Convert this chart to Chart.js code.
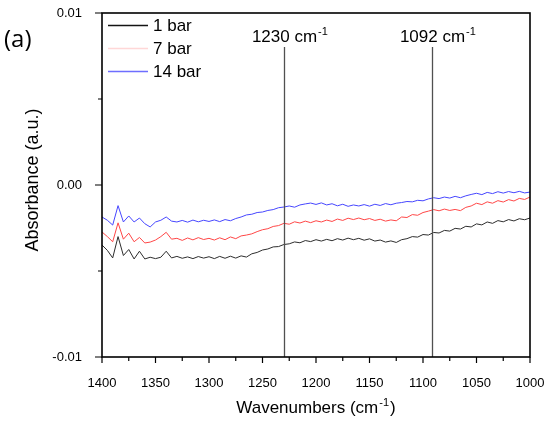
<!DOCTYPE html>
<html>
<head>
<meta charset="utf-8">
<script src="https://cdn.jsdelivr.net/npm/chart.js@4"></script>
<style>
  body { margin: 0; background: #fff; }
  canvas { display: block; }
</style>
</head>
<body>
<canvas id="ftir" width="549" height="423"></canvas>
<script>
var wavenumbers = [
  1400, 1395, 1390, 1385, 1380, 1375, 1370, 1365, 1360, 1355,
  1350, 1345, 1340, 1335, 1330, 1325, 1320, 1315, 1310, 1305,
  1300, 1295, 1290, 1285, 1280, 1275, 1270, 1265, 1260, 1255,
  1250, 1245, 1240, 1235, 1230, 1225, 1220, 1215, 1210, 1205,
  1200, 1195, 1190, 1185, 1180, 1175, 1170, 1165, 1160, 1155,
  1150, 1145, 1140, 1135, 1130, 1125, 1120, 1115, 1110, 1105,
  1100, 1095, 1090, 1085, 1080, 1075, 1070, 1065, 1060, 1055,
  1050, 1045, 1040, 1035, 1030, 1025, 1020, 1015, 1010, 1005,
  1000
];

var bar1 = [
  -0.00349, -0.00380, -0.00424, -0.00300, -0.00410, -0.00375, -0.00430, -0.00385, -0.00430, -0.00420,
  -0.00428, -0.00420, -0.00385, -0.00424, -0.00415, -0.00426, -0.00418, -0.00428, -0.00416, -0.00425,
  -0.00417, -0.00428, -0.00415, -0.00426, -0.00414, -0.00425, -0.00412, -0.00419, -0.00400, -0.00392,
  -0.00378, -0.00372, -0.00360, -0.00358, -0.00346, -0.00342, -0.00331, -0.00336, -0.00323, -0.00329,
  -0.00318, -0.00326, -0.00316, -0.00324, -0.00312, -0.00320, -0.00309, -0.00318, -0.00310, -0.00321,
  -0.00313, -0.00326, -0.00320, -0.00332, -0.00325, -0.00334, -0.00318, -0.00312, -0.00300, -0.00303,
  -0.00288, -0.00291, -0.00276, -0.00279, -0.00264, -0.00268, -0.00252, -0.00256, -0.00240, -0.00244,
  -0.00226, -0.00232, -0.00215, -0.00223, -0.00207, -0.00214, -0.00201, -0.00209, -0.00196, -0.00202,
  -0.00192
];

var bar7 = [
  -0.00273, -0.00300, -0.00330, -0.00220, -0.00315, -0.00280, -0.00330, -0.00305, -0.00337, -0.00332,
  -0.00320, -0.00300, -0.00275, -0.00315, -0.00310, -0.00322, -0.00308, -0.00319, -0.00306, -0.00317,
  -0.00310, -0.00320, -0.00307, -0.00318, -0.00302, -0.00312, -0.00296, -0.00291, -0.00284, -0.00271,
  -0.00260, -0.00254, -0.00241, -0.00236, -0.00223, -0.00228, -0.00214, -0.00221, -0.00210, -0.00219,
  -0.00208, -0.00215, -0.00204, -0.00212, -0.00198, -0.00206, -0.00193, -0.00201, -0.00192, -0.00202,
  -0.00195, -0.00206, -0.00199, -0.00210, -0.00203, -0.00208, -0.00186, -0.00189, -0.00172, -0.00176,
  -0.00160, -0.00152, -0.00143, -0.00150, -0.00140, -0.00148, -0.00142, -0.00149, -0.00130, -0.00122,
  -0.00106, -0.00114, -0.00098, -0.00106, -0.00091, -0.00099, -0.00085, -0.00093, -0.00078, -0.00084,
  -0.00070
];

var bar14 = [
  -0.00186, -0.00205, -0.00233, -0.00120, -0.00215, -0.00180, -0.00215, -0.00192, -0.00225, -0.00244,
  -0.00215, -0.00205, -0.00186, -0.00210, -0.00215, -0.00206, -0.00216, -0.00204, -0.00214, -0.00205,
  -0.00212, -0.00203, -0.00213, -0.00201, -0.00208, -0.00195, -0.00186, -0.00174, -0.00170, -0.00160,
  -0.00157, -0.00148, -0.00143, -0.00132, -0.00128, -0.00122, -0.00129, -0.00116, -0.00110, -0.00105,
  -0.00113, -0.00104, -0.00116, -0.00109, -0.00121, -0.00112, -0.00124, -0.00116, -0.00122, -0.00114,
  -0.00123, -0.00112, -0.00119, -0.00108, -0.00115, -0.00106, -0.00102, -0.00096, -0.00098, -0.00089,
  -0.00092, -0.00081, -0.00074, -0.00079, -0.00070, -0.00076, -0.00066, -0.00074, -0.00063, -0.00055,
  -0.00048, -0.00056, -0.00043, -0.00050, -0.00039, -0.00047, -0.00038, -0.00045, -0.00037, -0.00046,
  -0.00041
];

var seriesNames = ["1 bar", "7 bar", "14 bar"];
var markers = [1230, 1092];
var xMajor = [1400, 1350, 1300, 1250, 1200, 1150, 1100, 1050, 1000];
var xMinor = [1375, 1325, 1275, 1225, 1175, 1125, 1075, 1025];
var yMajor = [-0.01, 0, 0.01];
var yMinor = [-0.005, 0.005];

var color = {
    black: "rgb(45,45,45)"
  , red: "rgb(255,70,70)"
  , blue: "rgb(70,70,255)"
};
var legendColor = ["rgb(20,20,20)", "rgb(255,215,215)", "rgb(110,110,255)"];
var font = "'Liberation Sans', Arial, sans-serif";

function points(values) {
	return wavenumbers.map(function (w, i) { return { x: w, y: values[i] }; });
}

// base text followed by a small raised part
function supText(ctx, base, sup, x, y, size, supSize, align) {
	ctx.font = size + "px " + font;
	var wb = ctx.measureText(base).width;
	var x0 = align === "center" ? x - wb / 2 : x;
	ctx.textAlign = "left";
	ctx.textBaseline = "alphabetic";
	ctx.fillText(base, x0, y);
	ctx.font = supSize + "px " + font;
	ctx.fillText(sup, x0 + wb + 1, y - size * 0.42);
}

var decor = {
	id: "decor",
	afterDraw: function (chart) {
		var ctx = chart.ctx, a = chart.chartArea;
		var xs = chart.scales.x, ys = chart.scales.y;
		ctx.save();

		// marker lines at the two bands
		ctx.strokeStyle = "rgb(80,80,80)";
		ctx.lineWidth = 1.3;
		ctx.fillStyle = "#000";
		markers.forEach(function (m) {
			var px = Math.round(xs.getPixelForValue(m)) + 0.5;
			ctx.beginPath();
			ctx.moveTo(px, 47);
			ctx.lineTo(px, a.bottom);
			ctx.stroke();
			supText(ctx, m + " cm", "-1", px, 42, 17, 11, "center");
		});

		// frame
		ctx.strokeStyle = "#000";
		ctx.lineWidth = 1.6;
		ctx.strokeRect(a.left, a.top, a.right - a.left, a.bottom - a.top);

		// outward ticks, major and minor
		ctx.lineWidth = 1.2;
		ctx.beginPath();
		xMajor.forEach(function (v) {
			var px = xs.getPixelForValue(v);
			ctx.moveTo(px, a.bottom); ctx.lineTo(px, a.bottom + 6);
		});
		xMinor.forEach(function (v) {
			var px = xs.getPixelForValue(v);
			ctx.moveTo(px, a.bottom); ctx.lineTo(px, a.bottom + 4);
		});
		yMajor.forEach(function (v) {
			var py = ys.getPixelForValue(v);
			ctx.moveTo(a.left, py); ctx.lineTo(a.left - 7, py);
		});
		yMinor.forEach(function (v) {
			var py = ys.getPixelForValue(v);
			ctx.moveTo(a.left, py); ctx.lineTo(a.left - 4, py);
		});
		ctx.stroke();

		// legend inside the frame
		var rows = [25, 48, 71];
		chart.data.datasets.forEach(function (d, i) {
			ctx.strokeStyle = legendColor[i];
			ctx.lineWidth = 1.3;
			ctx.beginPath();
			ctx.moveTo(108, rows[i] + 0.5);
			ctx.lineTo(148, rows[i] + 0.5);
			ctx.stroke();
			ctx.fillStyle = "#000";
			ctx.font = "17px " + font;
			ctx.textAlign = "left";
			ctx.textBaseline = "middle";
			ctx.fillText(d.label, 153, rows[i] + 1);
		});

		// axis titles
		ctx.fillStyle = "#000";
		ctx.font = "17px " + font;
		var w = ctx.measureText("Wavenumbers (cm").width;
		ctx.font = "11px " + font;
		var ws = ctx.measureText("-1").width;
		ctx.font = "17px " + font;
		var wp = ctx.measureText(")").width;
		var cx = (a.left + a.right) / 2;
		var x0 = cx - (w + ws + wp + 2) / 2;
		supText(ctx, "Wavenumbers (cm", "-1", x0, 413, 17, 11, "left");
		ctx.font = "17px " + font;
		ctx.fillText(")", x0 + w + ws + 2, 413);

		ctx.save();
		ctx.translate(38, 180);
		ctx.rotate(-Math.PI / 2);
		ctx.textAlign = "center";
		ctx.textBaseline = "alphabetic";
		ctx.font = "18px " + font;
		ctx.fillText("Absorbance (a.u.)", 0, 0);
		ctx.restore();

		// panel label
		ctx.font = "24px 'Open Sans', sans-serif";
		ctx.textAlign = "left";
		ctx.textBaseline = "alphabetic";
		ctx.fillText("(a)", 4, 47);

		ctx.restore();
	}
};

var ctx = document.getElementById("ftir").getContext("2d");
new Chart(ctx, {
	type: "line",
	data: {
		datasets: [
			{ label: seriesNames[0], data: points(bar1), borderColor: color.black },
			{ label: seriesNames[1], data: points(bar7), borderColor: color.red },
			{ label: seriesNames[2], data: points(bar14), borderColor: color.blue }
		]
	},
	options: {
		responsive: false,
		devicePixelRatio: 1,
		animation: false,
		layout: { padding: { left: 0, right: 19, top: 13, bottom: 0 } },
		elements: {
			line: { borderWidth: 1, tension: 0 },
			point: { radius: 0 }
		},
		plugins: {
			legend: { display: false },
			tooltip: { enabled: false }
		},
		scales: {
			x: {
				type: "linear",
				reverse: true,
				min: 1000,
				max: 1400,
				grid: { display: false },
				border: { display: false },
				ticks: {
					stepSize: 50,
					padding: 11,
					color: "#000",
					font: { family: font, size: 13 },
					maxRotation: 0,
					callback: function (v) { return v; }
				},
				afterFit: function (s) {
					s.height = 66;
					s.paddingLeft = 0;
					s.paddingRight = 0;
				}
			},
			y: {
				min: -0.01,
				max: 0.01,
				grid: { display: false },
				border: { display: false },
				ticks: {
					stepSize: 0.01,
					padding: 12,
					color: "#000",
					font: { family: font, size: 13 },
					callback: function (v) { return Math.abs(v) < 1e-9 ? "0.00" : v.toFixed(2); }
				},
				afterFit: function (s) {
					s.width = 102;
					s.paddingTop = 0;
					s.paddingBottom = 0;
				}
			}
		}
	},
	plugins: [decor]
});
</script>
</body>
</html>
